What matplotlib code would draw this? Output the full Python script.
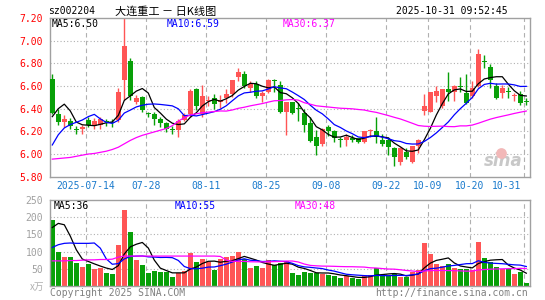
import numpy as np
import pandas as pd
import matplotlib
matplotlib.use("Agg")
import matplotlib.pyplot as plt
from matplotlib.transforms import blended_transform_factory

plt.rcParams['font.family'] = ['DejaVu Sans Mono', 'Noto Sans CJK SC']

# ---------------- data ----------------
open_ = [6.66, 6.35, 6.28, 6.29, 6.22, 6.22, 6.30, 6.25, 6.26, 6.285,
         6.28, 6.30, 6.65, 6.82, 6.46, 6.50, 6.36, 6.35, 6.31, 6.27,
         6.22, 6.21, 6.30, 6.35, 6.57, 6.35, 6.47, 6.49, 6.46, 6.49,
         6.53, 6.68, 6.71, 6.58, 6.62, 6.51, 6.55, 6.65, 6.61, 6.37,
         6.46, 6.41, 6.36, 6.27, 6.15, 6.09, 6.24, 6.20, 6.125, 6.12,
         6.14, 6.14, 6.11, 6.20, 6.20, 6.12, 6.12, 6.05, 5.93, 6.02,
         5.93, 6.07, 6.38, 6.37, 6.51, 6.42, 6.57, 6.55, 6.60, 6.54,
         6.51, 6.60, 6.82, 6.77, 6.60, 6.54, 6.56, 6.51, 6.53, 6.47]
high = [6.71, 6.40, 6.34, 6.32, 6.25, 6.26, 6.33, 6.32, 6.33, 6.31,
        6.31, 6.58, 7.20, 6.85, 6.52, 6.51, 6.37, 6.37, 6.33, 6.28,
        6.25, 6.31, 6.36, 6.57, 6.58, 6.61, 6.51, 6.53, 6.52, 6.57,
        6.65, 6.76, 6.73, 6.64, 6.64, 6.56, 6.66, 6.66, 6.64, 6.46,
        6.46, 6.45, 6.40, 6.33, 6.21, 6.23, 6.26, 6.21, 6.15, 6.18,
        6.17, 6.14, 6.20, 6.22, 6.33, 6.18, 6.15, 6.06, 6.06, 6.05,
        6.07, 6.13, 6.53, 6.55, 6.60, 6.57, 6.72, 6.61, 6.68, 6.71,
        6.64, 6.93, 6.87, 6.79, 6.63, 6.61, 6.59, 6.54, 6.56, 6.49]
low = [6.35, 6.26, 6.24, 6.22, 6.18, 6.18, 6.24, 6.22, 6.22, 6.25,
       6.24, 6.28, 6.48, 6.48, 6.44, 6.37, 6.33, 6.26, 6.24, 6.19,
       6.18, 6.15, 6.29, 6.33, 6.39, 6.33, 6.42, 6.40, 6.41, 6.45,
       6.50, 6.64, 6.58, 6.55, 6.49, 6.46, 6.54, 6.55, 6.36, 6.17,
       6.35, 6.29, 6.19, 6.11, 5.99, 6.07, 6.16, 6.11, 6.06, 6.07,
       6.11, 6.10, 6.10, 6.15, 6.10, 6.07, 5.99, 5.89, 5.90, 5.96,
       5.92, 6.01, 6.34, 6.37, 6.46, 6.41, 6.47, 6.47, 6.55, 6.44,
       6.49, 6.59, 6.76, 6.585, 6.485, 6.49, 6.49, 6.47, 6.43, 6.43]
close = [6.36, 6.28, 6.31, 6.25, 6.21, 6.24, 6.26, 6.29, 6.31, 6.28,
         6.275, 6.55, 6.95, 6.51, 6.49, 6.39, 6.35, 6.31, 6.27, 6.22,
         6.21, 6.29, 6.34, 6.56, 6.42, 6.51, 6.48, 6.44, 6.48, 6.53,
         6.65, 6.72, 6.60, 6.62, 6.51, 6.54, 6.65, 6.64, 6.37, 6.46,
         6.36, 6.40, 6.26, 6.115, 6.07, 6.22, 6.20, 6.14, 6.12, 6.15,
         6.12, 6.11, 6.20, 6.21, 6.15, 6.09, 6.06, 5.97, 6.05, 5.97,
         6.07, 6.12, 6.42, 6.55, 6.56, 6.57, 6.55, 6.60, 6.59, 6.45,
         6.58, 6.88, 6.81, 6.65, 6.49, 6.58, 6.55, 6.52, 6.45, 6.46]
volume = [191, 99, 85, 85, 67, 56, 64, 50, 53, 38,
          35, 119, 220, 157, 76, 61, 38, 44, 41, 41,
          27, 38, 44, 96, 70, 79, 70, 47, 79, 85,
          88, 99, 79, 53, 58, 53, 76, 61, 68, 73,
          39, 33, 42, 39, 39, 36, 33, 30, 22, 29,
          23, 21, 30, 33, 52, 30, 30, 36, 25, 25,
          42, 46, 125, 94, 65, 59, 65, 52, 50, 50,
          46, 128, 80, 71, 56, 50, 48, 36, 42, 10]

# moving-average values at the start of the window (before enough history)
ma5_head = [6.33, 6.40, 6.44, 6.38]
ma10_head = [6.08, 6.17, 6.23, 6.26, 6.28, 6.30, 6.33, 6.35, 6.31]
ma30_head = [5.955, 5.96, 5.965, 5.97, 5.98, 5.99, 6.00, 6.005, 6.015, 6.025,
             6.04, 6.06, 6.09, 6.12, 6.145, 6.165, 6.18, 6.195, 6.21, 6.225,
             6.25, 6.29, 6.32, 6.345, 6.355, 6.365, 6.37, 6.375, 6.38]
vma5_head = [170, 182, 178, 145]
vma10_head = [112, 120, 124, 125, 124, 124, 124, 125, 110]
vma30_head = [73, 73, 73, 74, 74, 75, 76, 76, 77, 77,
              78, 84, 87, 87, 87, 87, 87, 87, 87, 87,
              87, 87, 87, 87, 87, 87, 87, 87, 86]

tick_idx = [6, 16, 26, 36, 46, 56, 63, 70, 79]
tick_labels = ["2025-07-14", "07-28", "08-11", "08-25", "09-08",
               "09-22", "10-09", "10-20", "10-31"]
price_ticks = [5.80, 6.00, 6.20, 6.40, 6.60, 6.80, 7.00, 7.20]
vol_ticks = [50, 100, 150, 200, 250]
legend_price = ["MA5:6.50", "MA10:6.59", "MA30:6.37"]
legend_vol = ["MA5:36", "MA10:55", "MA30:48"]

# ---------------- derived ----------------
def ma(values, n, head):
    s = pd.Series(values, dtype=float).rolling(n).mean().to_numpy()
    s[:len(head)] = head
    return s

ma5 = ma(close, 5, ma5_head)
ma10 = ma(close, 10, ma10_head)
ma30 = ma(close, 30, ma30_head)
vma5 = ma(volume, 5, vma5_head)
vma10 = ma(volume, 10, vma10_head)
vma30 = ma(volume, 30, vma30_head)

o = np.array(open_); c = np.array(close); h = np.array(high); l = np.array(low)
x = np.arange(len(c))
RED, GREEN = '#ff5555', '#08a008'
up = c >= o
cols = np.where(up, RED, GREEN)

# ---------------- figure ----------------
W, H = 545, 300
fig = plt.figure(figsize=(W / 100, H / 100), dpi=100)
fig.patch.set_facecolor('white')

def fx(px): return px / W
def fy(py): return 1 - py / H

left_px, right_px = 50, 529.5
xl = ((left_px - 52.3) / 6, (right_px - 52.3) / 6)
FRAME = '#a0a0a0'
GRID = '#b0b0b0'

ax1 = fig.add_axes([fx(left_px), fy(176.7), (right_px - left_px) / W, (176.7 - 18) / H])
ax2 = fig.add_axes([fx(left_px), fy(286), (right_px - left_px) / W, (286 - 200) / H])

for ax in (ax1, ax2):
    ax.set_xlim(*xl)
    ax.set_xticks([])
    for sp in ax.spines.values():
        sp.set_color(FRAME)
        sp.set_linewidth(1)
    for k in tick_idx:
        ax.axvline(k - 0.42, color=GRID, lw=0.8, ls=(0, (4, 3)), zorder=0)

# price panel
ax1.set_ylim(5.80, 7.20)
ax1.set_yticks(price_ticks)
ax1.set_yticklabels([f"{v:.2f}" for v in price_ticks])
ax1.tick_params(axis='y', length=0, pad=5, labelsize=7, labelcolor='red')
for v in price_ticks[1:-1]:
    ax1.axhline(v, color=GRID, lw=0.8, ls=(0, (1, 2)), zorder=0)

ax1.vlines(x, l, h, colors=cols, lw=1, zorder=2)
body_lo = np.minimum(o, c)
body_h = np.maximum(np.abs(c - o), 0.009)
ax1.bar(x, body_h, bottom=body_lo, width=0.8, color=cols, lw=0, zorder=3)

ax1.plot(x, ma5, color='black', lw=0.9, zorder=4)
ax1.plot(x, ma10, color='#0000ff', lw=0.9, zorder=4)
ax1.plot(x, ma30, color='#ff00ff', lw=0.9, zorder=4)

# sina watermark
ax1.text(0.985, 0.04, "sina", transform=ax1.transAxes, ha='right', va='bottom',
         fontsize=12, fontweight='bold', style='italic', color='#c8c8c8',
         family='DejaVu Sans', zorder=1)
ax1.scatter([0.94], [0.15], transform=ax1.transAxes, s=60, color='#f2b8b8',
            zorder=1, lw=0)

# volume panel
ax2.set_ylim(0, 250)
ax2.set_yticks(vol_ticks)
ax2.set_yticklabels([str(v) for v in vol_ticks])
ax2.tick_params(axis='y', length=0, pad=5, labelsize=7, labelcolor='#a0a0a0')
for v in vol_ticks[:-1]:
    ax2.axhline(v, color=GRID, lw=0.8, ls=(0, (1, 2)), zorder=0)
ax2.bar(x, volume, width=0.8, color=cols, lw=0, zorder=2)
ax2.plot(x, vma5, color='black', lw=0.9, zorder=4)
ax2.plot(x, vma10, color='#0000ff', lw=0.9, zorder=4)
ax2.plot(x, vma30, color='#ff00ff', lw=0.9, zorder=4)

# date labels
tr = blended_transform_factory(ax1.transData, fig.transFigure)
for k, lab in zip(tick_idx, tick_labels):
    if k == tick_idx[-1]:
        ax1.text((521.5 - 52.3) / 6, fy(186), lab, transform=tr, ha='right',
                 va='center', fontsize=7, color='#1a7acc', clip_on=False)
    else:
        ax1.text(k - 0.42, fy(186), lab, transform=tr, ha='center',
                 va='center', fontsize=7, color='#1a7acc', clip_on=False)

# header texts
fig.text(fx(48), fy(11), "sz002204", fontsize=7, va='center', color='black')
fig.text(fx(115), fy(11), "大连重工 － 日K线图", fontsize=8, va='center',
         color='black', family=['Noto Sans CJK SC', 'DejaVu Sans'])
fig.text(fx(508), fy(11), "2025-10-31 09:52:45", fontsize=7, va='center',
         ha='right', color='black')

# legends
fig.text(fx(52), fy(24), legend_price[0], fontsize=7, va='center', color='black')
fig.text(fx(167), fy(24), legend_price[1], fontsize=7, va='center', color='#0000ff')
fig.text(fx(283), fy(24), legend_price[2], fontsize=7, va='center', color='#ff00ff')
fig.text(fx(54), fy(206), legend_vol[0], fontsize=7, va='center', color='black')
fig.text(fx(175), fy(206), legend_vol[1], fontsize=7, va='center', color='#0000ff')
fig.text(fx(295), fy(206), legend_vol[2], fontsize=7, va='center', color='#ff00ff')

# unit & footer
fig.text(fx(44), fy(287), "x万", fontsize=7, va='center', ha='right',
         color='#b0b0b0', family=['Noto Sans CJK SC', 'DejaVu Sans'])
fig.text(fx(50), fy(293), "Copyright 2025 SINA.COM", fontsize=7, va='center',
         color='#808080')
fig.text(fx(528), fy(293), "http://finance.sina.com.cn", fontsize=7, va='center',
         ha='right', color='#808080')

fig.savefig("out.png", dpi=100, facecolor='white')
